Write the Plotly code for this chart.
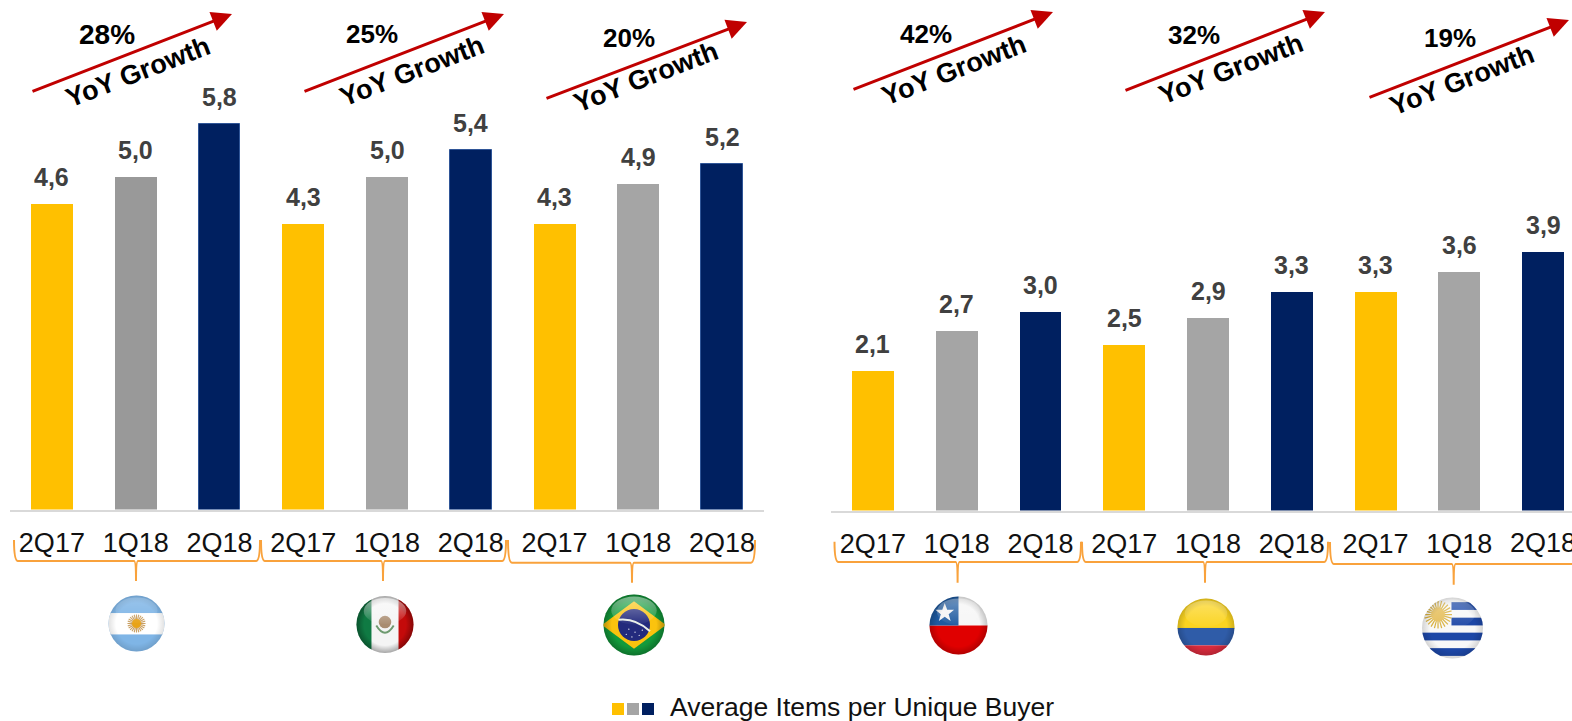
import base64
import math
import plotly.graph_objects as go

# ---------- data ----------
periods = ["2Q17", "1Q18", "2Q18"]
left_values = [4.6, 5.0, 5.8, 4.3, 5.0, 5.4, 4.3, 4.9, 5.2]
right_values = [2.1, 2.7, 3.0, 2.5, 2.9, 3.3, 3.3, 3.6, 3.9]
left_growth = ["28%", "25%", "20%"]
right_growth = ["42%", "32%", "19%"]
legend_label = "Average Items per Unique Buyer"
growth_caption = "YoY Growth"

W, H = 1572, 721
FONT = "Liberation Sans, Arial, sans-serif"
YELLOW, GREY, DARKGREY, NAVY = "#FFC000", "#A5A5A5", "#999999", "#002060"
TICK_FONT = dict(family=FONT, size=27, color="#111111")
fx = lambda p: p / W
fy = lambda p: 1 - p / H


def fmt(v):
    return f"{v:.1f}".replace(".", ",")


tick_labels = periods * 3
left_colors = [YELLOW, DARKGREY, NAVY, YELLOW, GREY, NAVY, YELLOW, GREY, NAVY]
right_colors = [YELLOW, GREY, NAVY] * 3
idx = list(range(9))

fig = go.Figure()
fig.add_bar(x=idx, y=left_values, width=0.5, xaxis="x", yaxis="y", showlegend=False,
            marker=dict(color=left_colors, line=dict(width=[1 if c == NAVY else 0 for c in left_colors], color="#2F5597")))
fig.add_bar(x=idx, y=right_values, width=0.5, xaxis="x2", yaxis="y2", showlegend=False,
            marker=dict(color=right_colors, line=dict(width=0)))

STEP = 83.78
X2_START = 831
axis_common = dict(tickmode="array", tickangle=0, showgrid=False, zeroline=False,
                   showline=True, linecolor="#D9D9D9", linewidth=2, ticks="outside", ticklen=8, tickwidth=1,
                   tickcolor="rgba(0,0,0,0)", tickfont=TICK_FONT)
fig.update_layout(
    width=W, height=H, margin=dict(l=0, r=0, t=0, b=0), paper_bgcolor="white", plot_bgcolor="white",
    xaxis=dict(domain=[fx(10), fx(764)], range=[-0.5, 8.5], anchor="y", tickvals=idx, ticktext=tick_labels, **axis_common),
    xaxis2=dict(domain=[fx(X2_START), 1], range=[-0.5, -0.5 + (W - X2_START) / STEP], anchor="y2",
                tickvals=idx[:-1], ticktext=tick_labels[:-1], **axis_common),
    yaxis=dict(domain=[fy(509.5), 1], range=[0, 509.5 / 66.5], visible=False),
    yaxis2=dict(domain=[fy(510.5), 1], range=[0, 510.5 / 66.3], visible=False),
)

ann = []
for vals, xr, yr in ((left_values, "x", "y"), (right_values, "x2", "y2")):
    for i, v in enumerate(vals):
        ann.append(dict(x=i, y=v, xref=xr, yref=yr, text=fmt(v), showarrow=False, yanchor="bottom", xanchor="center", yshift=11,
                        font=dict(family=FONT, size=25, color="#404040", weight=700)))

# last tick label of the right panel runs off the canvas, as in the reference
ann.append(dict(x=idx[-1], y=0, xref="x2", yref="y2", text=tick_labels[-1], showarrow=False, xanchor="center",
                yanchor="top", yshift=-15, font=TICK_FONT))

# growth arrows and captions
arrows = [((31, 92), (232, 14)), ((303, 92), (504, 14)), ((545, 99), (747, 22)),
          ((852, 90), (1053, 12)), ((1124, 91), (1325, 12)), ((1368, 98), (1569, 20))]
growth_pos = [(107, 35, 28), (372, 34, 26), (629, 38, 26), (926, 34, 26), (1194, 35, 26), (1450, 38, 26)]
caption_pos = [(138, 72), (412, 71), (646, 77), (954, 70), (1231, 69), (1462, 80)]
for (a, b), (gx, gy, gs), (cx, cy), g in zip(arrows, growth_pos, caption_pos, left_growth + right_growth):
    ann.append(dict(x=fx(b[0]), y=fy(b[1]), xref="paper", yref="paper", ax=a[0] - b[0], ay=a[1] - b[1], text="",
                    showarrow=True, arrowhead=2, arrowsize=1.35, arrowwidth=3, arrowcolor="#C00000"))
    ann.append(dict(x=fx(gx), y=fy(gy), xref="paper", yref="paper", text=g, showarrow=False, xanchor="center", yanchor="middle",
                    font=dict(family=FONT, size=gs, color="black", weight=700)))
    ann.append(dict(x=fx(cx), y=fy(cy), xref="paper", yref="paper", text=growth_caption, showarrow=False,
                    xanchor="center", yanchor="middle", textangle=-21,
                    font=dict(family=FONT, size=27, color="black", weight=700)))

# legend
ann.append(dict(x=fx(668), y=fy(707), xref="paper", yref="paper", xanchor="left", yanchor="middle", text=legend_label, showarrow=False,
                font=dict(family=FONT, size=26.5, color="#111111")))
shapes = []
for x0, c in ((612, YELLOW), (627, GREY), (642, NAVY)):
    shapes.append(dict(type="rect", xref="paper", yref="paper", x0=fx(x0), x1=fx(x0 + 12), y0=fy(703), y1=fy(715),
                       fillcolor=c, line=dict(width=0)))

# orange brackets: left, right, top, bottom, centre, tip
brackets = [(14, 260, 540, 561, 136, 581), (261, 506, 540, 561, 383, 581), (508, 755, 540, 562.7, 632, 582.7),
            (834.5, 1081, 541.7, 562, 957.6, 582.7), (1082, 1328, 541.7, 562, 1205, 582.7),
            (1330, 1576, 542, 564, 1453.7, 584.7)]
for l, r, t, b, c, tip in brackets:
    path = (f"M {fx(l)} {fy(t)} Q {fx(l)} {fy(b)} {fx(l + 4)} {fy(b)} L {fx(c - 2)} {fy(b)} "
            f"Q {fx(c)} {fy(b)} {fx(c)} {fy(tip)} Q {fx(c)} {fy(b)} {fx(c + 2)} {fy(b)} "
            f"L {fx(r - 4)} {fy(b)} Q {fx(r)} {fy(b)} {fx(r)} {fy(t)}")
    shapes.append(dict(type="path", xref="paper", yref="paper", path=path, line=dict(color="#F9A23C", width=2)))


# flag pictures (the reference shows glossy flag icons)
def sun(cx, cy, r, ray, core):
    s = ""
    for k in range(24):
        a = k * math.pi / 12
        s += (f'<line x1="{cx + r * .45 * math.cos(a):.1f}" y1="{cy + r * .45 * math.sin(a):.1f}" '
              f'x2="{cx + r * math.cos(a):.1f}" y2="{cy + r * math.sin(a):.1f}" stroke="{ray}" stroke-width="2.4"/>')
    return s + f'<circle cx="{cx}" cy="{cy}" r="{r * .5}" fill="{core}"/>'


def flag(body, gloss=0.55):
    svg = f'''<svg xmlns="http://www.w3.org/2000/svg" width="240" height="240" viewBox="0 0 120 120">
<defs><clipPath id="c"><circle cx="60" cy="60" r="59"/></clipPath>
<radialGradient id="e" cx="50%" cy="50%" r="50%"><stop offset="72%" stop-color="#000" stop-opacity="0"/>
<stop offset="100%" stop-color="#000" stop-opacity="{0.34 * gloss / 0.55}"/></radialGradient>
<linearGradient id="h" x1="0" y1="0" x2="0" y2="1"><stop offset="0" stop-color="#fff" stop-opacity="{gloss}"/>
<stop offset="1" stop-color="#fff" stop-opacity="0.03"/></linearGradient></defs>
<g clip-path="url(#c)">{body}<rect width="120" height="120" fill="url(#e)"/>
<ellipse cx="60" cy="32" rx="44" ry="27" fill="url(#h)"/></g></svg>'''
    return "data:image/svg+xml;base64," + base64.b64encode(svg.encode()).decode()


argentina = ('<rect width="120" height="120" fill="#7FB5E6"/><rect y="38" width="120" height="45" fill="#fff"/>'
             + sun(60, 60, 19, "#C9A064", "#E8A317"))
mexico = ('<rect width="120" height="120" fill="#F4F4F4"/><rect width="32" height="120" fill="#0F7A43"/>'
          '<rect x="88" width="32" height="120" fill="#C40A0A"/>'
          '<ellipse cx="60" cy="55" rx="13" ry="13" fill="#A98C70"/><path d="M42 62 Q60 92 78 62" fill="none" stroke="#6E9A70" stroke-width="4"/>')
brazil = ('<rect width="120" height="120" fill="#129A3B"/><polygon points="-2,60 60,14 122,60 60,106" fill="#FBC30E"/>'
          '<circle cx="60" cy="60" r="31" fill="#232A7D"/><path d="M30 50 Q62 46 91 72" fill="none" stroke="#E8EEE8" stroke-width="4"/>'
          '<g fill="#fff"><circle cx="50" cy="68" r="1.2"/><circle cx="62" cy="74" r="1.2"/><circle cx="70" cy="80" r="1.2"/>'
          '<circle cx="45" cy="78" r="1.2"/><circle cx="56" cy="83" r="1.2"/><circle cx="76" cy="70" r="1.2"/></g>')
chile = ('<rect width="120" height="60" fill="#F6F6F6"/><rect y="60" width="120" height="60" fill="#E00000"/>'
         '<rect width="60" height="60" fill="#1E5AA0"/>'
         '<polygon points="32,14 37,28 51,28 40,37 44,51 32,42 20,51 24,37 13,28 27,28" fill="#F4F4F4"/>')
colombia = ('<rect width="120" height="64" fill="#FBD420"/><rect y="62" width="120" height="36" fill="#2F5CA8"/>'
            '<rect y="98" width="120" height="22" fill="#D92B3D"/>')
uruguay = ('<rect width="120" height="120" fill="#F8F8F8"/><rect x="58" y="10" width="62" height="15" fill="#2B55AE"/>'
           '<rect x="58" y="40" width="62" height="15" fill="#1D47A6"/><rect y="69" width="120" height="15" fill="#1D47A6"/>'
           '<rect y="99" width="120" height="15" fill="#1D47A6"/>' + sun(32, 34, 27, "#D9B13F", "#E5BE5A"))

# image, centre x, centre y, radius
flags = [(argentina, 136.5, 623.5, 28.5, .2), (mexico, 385, 624.5, 29, .55), (brazil, 634, 625, 31, .45),
         (chile, 958.5, 625.5, 29.5, .35), (colombia, 1206, 627, 29, .3), (uruguay, 1452.5, 628, 31, .25)]
images = [dict(source=flag(b, g), xref="paper", yref="paper", x=fx(cx - r), y=fy(cy - r), sizex=2 * r / W,
               sizey=2 * r / H, xanchor="left", yanchor="top", sizing="stretch", layer="above")
          for b, cx, cy, r, g in flags]

fig.update_layout(annotations=ann, shapes=shapes, images=images, bargap=0)
fig.write_html("out.html", config=dict(displayModeBar=False),
               post_script="document.body.style.margin='0';document.body.style.overflow='hidden';")
